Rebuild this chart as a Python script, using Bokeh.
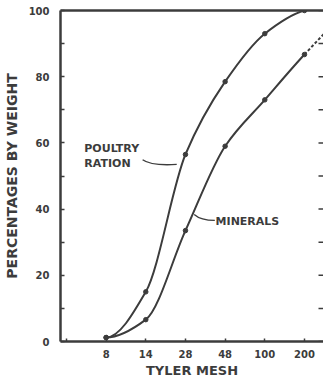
import numpy as np
from bokeh.plotting import figure
from bokeh.models import Range1d, FixedTicker, LinearAxis, Title
from bokeh.core.properties import value
from bokeh.embed import file_html
from bokeh.resources import INLINE

# Cumulative particle-size distribution (percent by weight passing each Tyler sieve)
mesh_labels = ["8", "14", "28", "48", "100", "200"]
poultry_ration = [1.2, 15.0, 56.5, 78.5, 93.0, 100.0]
minerals = [1.2, 6.6, 33.5, 59.0, 73.0, 86.7]
minerals_beyond_200 = 99.0  # estimated continuation past the 200 sieve (dashed)
percent_ticks = [0, 20, 40, 60, 80, 100]
percent_minor = [10, 30, 50, 70, 90]

INK = "#3c3c3c"
FONT = "DejaVu Sans"
X_START, X_END = -1.15, 5.48


def pchip_slopes(x, y):
    """Monotone (Fritsch-Carlson) tangents so curves never overshoot."""
    x = np.asarray(x, float)
    y = np.asarray(y, float)
    h = np.diff(x)
    d = np.diff(y) / h
    n = len(x)
    m = np.zeros(n)
    for k in range(1, n - 1):
        if d[k - 1] * d[k] <= 0:
            m[k] = 0.0
        else:
            w1 = 2 * h[k] + h[k - 1]
            w2 = h[k] + 2 * h[k - 1]
            m[k] = (w1 + w2) / (w1 / d[k - 1] + w2 / d[k])

    def end(h0, h1, d0, d1):
        s = ((2 * h0 + h1) * d0 - h0 * d1) / (h0 + h1)
        if np.sign(s) != np.sign(d0):
            return 0.0
        if np.sign(d0) != np.sign(d1) and abs(s) > abs(3 * d0):
            return 3 * d0
        return s

    m[0] = end(h[0], h[1], d[0], d[1])
    m[-1] = end(h[-1], h[-2], d[-1], d[-2])
    return m


def bezier_segments(x, y):
    """Cubic Hermite pieces expressed as Bezier control points."""
    m = pchip_slopes(x, y)
    segs = dict(x0=[], y0=[], x1=[], y1=[], cx0=[], cy0=[], cx1=[], cy1=[])
    for k in range(len(x) - 1):
        h = x[k + 1] - x[k]
        segs["x0"].append(x[k])
        segs["y0"].append(y[k])
        segs["x1"].append(x[k + 1])
        segs["y1"].append(y[k + 1])
        segs["cx0"].append(x[k] + h / 3)
        segs["cy0"].append(y[k] + m[k] * h / 3)
        segs["cx1"].append(x[k + 1] - h / 3)
        segs["cy1"].append(y[k + 1] - m[k + 1] * h / 3)
    return segs


pos = list(range(len(mesh_labels)))

p = figure(
    width=323, height=382,
    x_range=Range1d(X_START, X_END), y_range=Range1d(0, 100),
    output_backend="svg", toolbar_location=None,
    min_border_left=59, min_border_right=0, min_border_top=10, min_border_bottom=41,
    background_fill_color="white", border_fill_color="white",
)
p.outline_line_color = None
p.grid.visible = False

# left axis
ya = p.yaxis[0]
ya.ticker = FixedTicker(ticks=percent_ticks, minor_ticks=percent_minor)
ya.axis_line_width = 2.5
ya.axis_line_color = INK
ya.major_tick_in = 4
ya.major_tick_out = 0
ya.minor_tick_in = 4
ya.minor_tick_out = 0
ya.major_tick_line_color = INK
ya.minor_tick_line_color = INK
ya.major_tick_line_width = 1.5
ya.minor_tick_line_width = 1.5
ya.major_label_standoff = 11
ya.major_label_text_font = FONT
ya.major_label_text_font_style = "bold"
ya.major_label_text_font_size = "10px"
ya.major_label_text_color = INK
ya.axis_label = "PERCENTAGES BY WEIGHT"
ya.axis_label_text_font = FONT
ya.axis_label_text_font_style = "bold"
ya.axis_label_text_font_size = "14px"
ya.axis_label_text_color = INK
ya.axis_label_standoff = 6

# bottom axis: labelled sieves plus one unlabelled tick on the left
xa = p.xaxis[0]
xa.ticker = FixedTicker(ticks=pos, minor_ticks=[-1])
xa.major_label_overrides = {i: lab for i, lab in zip(pos, mesh_labels)}
xa.axis_line_width = 2.5
xa.axis_line_color = INK
xa.major_tick_in = 3
xa.major_tick_out = 0
xa.minor_tick_in = 3
xa.minor_tick_out = 0
xa.major_tick_line_width = 1.5
xa.minor_tick_line_width = 1.5
xa.major_tick_line_color = INK
xa.minor_tick_line_color = INK
xa.major_label_standoff = 8
xa.major_label_text_font = FONT
xa.major_label_text_font_style = "bold"
xa.major_label_text_font_size = "10px"
xa.major_label_text_color = INK

p.add_layout(Title(text="TYLER MESH", align="center", offset=13, standoff=0,
                   text_font=FONT, text_font_style="bold", text_font_size="13px",
                   text_color=INK), "below")

# top border line
top = LinearAxis(ticker=FixedTicker(ticks=[]), axis_line_width=2.5, axis_line_color=INK,
                 major_label_standoff=0, major_tick_in=0, major_tick_out=0)
p.add_layout(top, "above")

# inward ticks along the right edge (dash markers half-clipped by the frame)
p.scatter([X_END] * (len(percent_ticks) + len(percent_minor)),
          percent_ticks + percent_minor, marker="dash", size=10,
          line_color=INK, line_width=1.5)

# curves
pr = bezier_segments(pos, poultry_ration)
p.bezier(source=pr, x0="x0", y0="y0", x1="x1", y1="y1", cx0="cx0", cy0="cy0",
         cx1="cx1", cy1="cy1", line_color=INK, line_width=2)

mx = pos + [len(pos)]
my = minerals + [minerals_beyond_200]
mn = bezier_segments(mx, my)
solid = {k: v[:-1] for k, v in mn.items()}
dashed = {k: v[-1:] for k, v in mn.items()}
p.bezier(source=solid, x0="x0", y0="y0", x1="x1", y1="y1", cx0="cx0", cy0="cy0",
         cx1="cx1", cy1="cy1", line_color=INK, line_width=2)
p.bezier(source=dashed, x0="x0", y0="y0", x1="x1", y1="y1", cx0="cx0", cy0="cy0",
         cx1="cx1", cy1="cy1", line_color=INK, line_width=2, line_dash="3 2")

p.scatter(pos, poultry_ration, size=4.5, color=INK)
p.scatter(pos, minerals, size=4.5, color=INK)

# curve labels with leader lines
p.text(x=[-0.55], y=[58.3], text=["POULTRY"], text_font=value(FONT), text_font_style="bold",
       text_font_size="11px", text_color=INK, text_baseline="middle", text_align="left")
p.text(x=[-0.55], y=[53.8], text=["RATION"], text_font=value(FONT), text_font_style="bold",
       text_font_size="11px", text_color=INK, text_baseline="middle", text_align="left")
p.bezier(x0=[0.92], y0=[54.9], x1=[1.78], y1=[53.5], cx0=[1.08], cy0=[53.5],
         cx1=[1.38], cy1=[53.2], line_color=INK, line_width=1.3)

p.text(x=[2.76], y=[36.3], text=["MINERALS"], text_font=value(FONT), text_font_style="bold",
       text_font_size="11px", text_color=INK, text_baseline="middle", text_align="left")
p.bezier(x0=[2.22], y0=[38.4], x1=[2.74], y1=[36.6], cx0=[2.36], cy0=[36.9],
         cx1=[2.51], cy1=[36.6], line_color=INK, line_width=1.3)

open("out.html", "w").write(file_html(p, INLINE))
